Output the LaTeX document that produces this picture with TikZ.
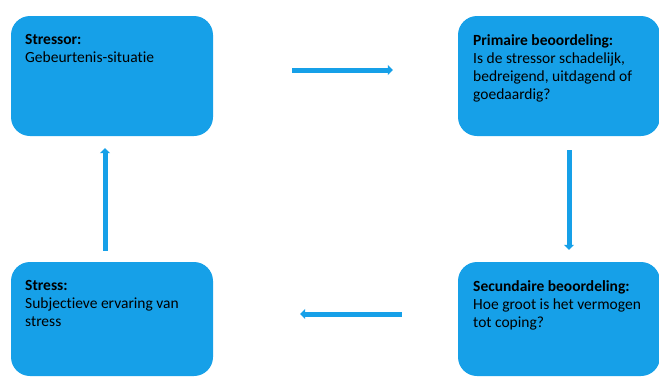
\documentclass[tikz,border=0pt]{standalone}
\usepackage{fontspec}
\setmainfont[Ligatures={NoCommon}]{Carlito}
\usepackage{tikz}
\usetikzlibrary{positioning,arrows.meta}
\definecolor{boxblue}{RGB}{22,160,232}

\begin{document}
\begin{tikzpicture}[
    x=1pt, y=-1pt,
    >={Triangle[length=5pt,width=10pt]},
    box/.style={fill=boxblue, rounded corners=19pt, minimum width=202pt, inner sep=0pt},
    boxtext/.style={anchor=north west, align=left, inner sep=0pt,
        font=\fontsize{15.5}{18}\selectfont},
    flow/.style={->, draw=boxblue, line width=5pt}
]

\useasboundingbox (0,0) rectangle (659,376);

\node[box, minimum height=120pt] (stressor) at (112,76) {};
\node[box, minimum height=120pt] (primair) at (559,76) {};
\node[box, minimum height=114pt] (secundair) at (559,319) {};
\node[box, minimum height=114pt] (stress) at (112,319) {};

\node[boxtext] (stressortext) at (25,34)
    {\textbf{Stressor:}\\Gebeurtenis-situatie};
\node[boxtext] (primairtext) at (473,34)
    {\textbf{Primaire beoordeling:}\\Is de stressor schadelijk,\\bedreigend, uitdagend of\\goedaardig?};
\node[boxtext] (secundairtext) at (473,280)
    {\textbf{Secundaire beoordeling:}\\Hoe groot is het vermogen\\tot coping?};
\node[boxtext] (stresstext) at (25,280)
    {\textbf{Stress:}\\Subjectieve ervaring van\\stress};

\draw[flow] ([xshift=79pt,yshift=6pt]stressor.east) -- ([xshift=-65pt,yshift=6pt]primair.west);
\draw[flow] ([xshift=10pt,yshift=-14pt]primair.south) -- ([xshift=10pt,yshift=12pt]secundair.north);
\draw[flow] ([xshift=-56pt,yshift=5pt]secundair.west) -- ([xshift=87pt,yshift=5pt]stress.east);
\draw[flow] ([xshift=-7pt,yshift=11pt]stress.north) -- ([xshift=-7pt,yshift=-12pt]stressor.south);

\end{tikzpicture}
\end{document}
